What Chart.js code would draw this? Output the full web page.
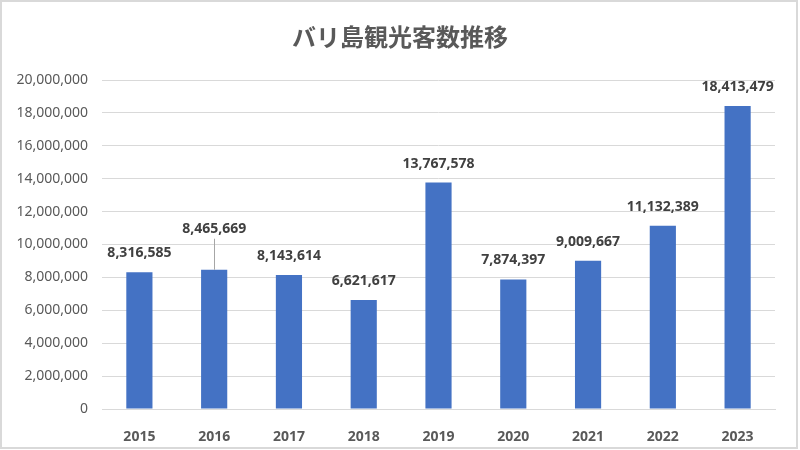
<!DOCTYPE html>
<html><head><meta charset="utf-8">
<script src="https://cdn.jsdelivr.net/npm/chart.js@4"></script>
<style>html,body{margin:0;padding:0;background:#fff}#wrap{width:800px;height:450px}</style>
</head><body><div id="wrap"><canvas id="c" width="800" height="450"></canvas></div>
<script>
const title = 'バリ島観光客数推移';
const categories = ['2015','2016','2017','2018','2019','2020','2021','2022','2023'];
const visitors = [8316585, 8465669, 8143614, 6621617, 13767578, 7874397, 9009667, 11132389, 18413479];
const yTicks = [0,2000000,4000000,6000000,8000000,10000000,12000000,14000000,16000000,18000000,20000000];

const fmt = v => v.toLocaleString('en-US');

const decor = {
  id: 'decor',
  afterDatasetsDraw(chart) {
    const ctx = chart.ctx;
    const meta = chart.getDatasetMeta(0);
    ctx.save();
    ctx.font = 'bold 14px "Noto Sans", sans-serif';
    ctx.fillStyle = '#404040';
    ctx.textAlign = 'center';
    ctx.textBaseline = 'middle';
    meta.data.forEach((bar, i) => {
      const lifted = (i === 1);
      const y = bar.y - (lifted ? 41 : 19);
      if (lifted) {
        ctx.strokeStyle = '#a6a6a6';
        ctx.lineWidth = 1;
        ctx.beginPath();
        ctx.moveTo(Math.round(bar.x) + 0.5, y + 10);
        ctx.lineTo(Math.round(bar.x) + 0.5, bar.y);
        ctx.stroke();
      }
      ctx.fillText(fmt(visitors[i]), bar.x, y);
    });
    ctx.restore();
  },
  afterDraw(chart) {
    const ctx = chart.ctx;
    ctx.save();
    ctx.font = 'bold 24px "Noto Sans CJK JP", sans-serif';
    ctx.fillStyle = '#595959';
    ctx.textAlign = 'center';
    ctx.textBaseline = 'middle';
    ctx.fillText(title, 400, 37);
    ctx.strokeStyle = '#d9d9d9';
    ctx.lineWidth = 2;
    ctx.strokeRect(1, 1, 796, 447);
    ctx.restore();
  }
};

new Chart(document.getElementById('c'), {
  type: 'bar',
  data: { labels: categories, datasets: [{ data: visitors, backgroundColor: '#4472C4', barPercentage: 0.7, categoryPercentage: 0.5 }] },
  options: {
    responsive: false, animation: false,
    layout: { padding: { top: 80, right: 25, left: 0, bottom: 0 } },
    plugins: { legend: { display: false }, tooltip: { enabled: false } },
    scales: {
      x: {
        grid: { display: false },
        border: { color: '#d9d9d9' },
        ticks: { color: '#595959', font: { family: '"Noto Sans", sans-serif', size: 14, weight: 'bold' }, padding: 12 },
        afterFit(s) { s.height = 41; }
      },
      y: {
        min: 0, max: 20000000,
        afterBuildTicks(s) { s.ticks = yTicks.map(v => ({ value: v })); },
        grid: { color: '#d9d9d9', drawTicks: false },
        border: { display: false },
        ticks: { color: '#595959', font: { family: '"Noto Sans", sans-serif', size: 14 }, padding: 14, callback: v => fmt(v) },
        afterFit(s) { s.width = 102; }
      }
    }
  },
  plugins: [decor]
});
</script></body></html>
